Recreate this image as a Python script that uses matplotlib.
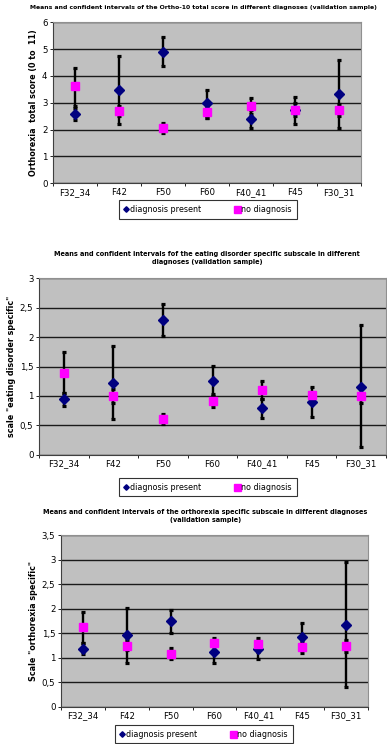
"""Means and confidence intervals, three panels (Excel-style)"""

import numpy as np
import matplotlib
matplotlib.use("Agg")
import matplotlib.pyplot as plt
from matplotlib.ticker import FuncFormatter

categories = ["F32_34", "F42", "F50", "F60", "F40_41", "F45", "F30_31"]

# Panel 1: Ortho-10 total score
total_present = [2.58, 3.46, 4.91, 2.98, 2.40, 2.72, 3.33]
total_present_lo = [2.35, 2.20, 4.38, 2.42, 2.05, 2.20, 2.05]
total_present_hi = [2.82, 4.75, 5.45, 3.48, 2.75, 3.22, 4.61]
total_none = [3.61, 2.71, 2.05, 2.66, 2.89, 2.74, 2.73]
total_none_lo = [2.90, 2.50, 1.87, 2.42, 2.60, 2.50, 2.50]
total_none_hi = [4.31, 2.90, 2.25, 2.90, 3.17, 3.00, 2.95]

# Panel 2: eating disorder specific subscale
eat_present = [0.94, 1.22, 2.29, 1.26, 0.79, 0.89, 1.16]
eat_present_lo = [0.83, 0.60, 2.02, 1.00, 0.62, 0.65, 0.13]
eat_present_hi = [1.05, 1.85, 2.57, 1.51, 0.95, 1.05, 2.20]
eat_none = [1.39, 1.00, 0.60, 0.92, 1.10, 1.02, 1.00]
eat_none_lo = [1.05, 0.88, 0.52, 0.81, 0.95, 0.90, 0.88]
eat_none_hi = [1.75, 1.12, 0.70, 1.04, 1.25, 1.15, 1.12]

# Panel 3: orthorexia specific subscale
orto_present = [1.18, 1.47, 1.74, 1.12, 1.17, 1.42, 1.67]
orto_present_lo = [1.07, 1.15, 1.50, 0.90, 0.98, 1.25, 0.40]
orto_present_hi = [1.30, 2.02, 1.97, 1.25, 1.30, 1.70, 2.94]
orto_none = [1.63, 1.24, 1.08, 1.29, 1.27, 1.21, 1.24]
orto_none_lo = [1.30, 0.90, 0.97, 1.15, 1.12, 1.10, 1.12]
orto_none_hi = [1.94, 1.35, 1.20, 1.40, 1.40, 1.32, 1.35]

FS = 5.3
NAVY = "#000080"
PINK = "#FF00FF"


def comma(v, pos):
    s = "{:g}".format(v)
    return s.replace(".", ",")


def draw_panel(ax, present, p_lo, p_hi, none, n_lo, n_hi, ymax, ystep, ylabel):
    x = np.arange(len(categories))
    present = np.array(present)
    none = np.array(none)
    ax.set_facecolor("#C0C0C0")
    ax.set_axisbelow(True)
    ax.yaxis.grid(True, color="#1a1a1a", linewidth=1.0)

    for vals, lo, hi in [(present, p_lo, p_hi), (none, n_lo, n_hi)]:
        err = [vals - np.array(lo), np.array(hi) - vals]
        ax.errorbar(x, vals, yerr=err, fmt="none", ecolor="black",
                    elinewidth=1.7, capsize=1.2, capthick=2.3, zorder=2)

    ax.plot(x, present, linestyle="none", marker="D", markersize=4.8,
            color=NAVY, label="diagnosis present", zorder=3)
    ax.plot(x, none, linestyle="none", marker="s", markersize=6.3,
            color=PINK, label="no diagnosis", zorder=4)

    ax.set_xlim(-0.5, len(categories) - 0.5)
    ax.set_ylim(0, ymax)
    ax.set_yticks(np.arange(0, ymax + 0.001, ystep))
    ax.yaxis.set_major_formatter(FuncFormatter(comma))
    ax.set_xticks(x)
    ax.set_xticklabels(categories)
    ax.set_xticks(np.arange(-0.5, len(categories)), minor=True)
    ax.tick_params(axis="x", which="major", length=0, labelsize=FS + 0.9, pad=3.5)
    ax.tick_params(axis="x", which="minor", length=2.5, width=0.6)
    ax.tick_params(axis="y", length=2.5, width=0.6, labelsize=FS + 0.9, pad=1.5)
    for side in ["top", "right"]:
        ax.spines[side].set_color("#909090")
    for side in ["left", "bottom"]:
        ax.spines[side].set_color("#404040")
    ax.set_ylabel(ylabel, fontsize=FS + 0.5, fontweight="bold", labelpad=3)


fig = plt.figure(figsize=(3.87, 7.44), dpi=100)

ax1 = fig.add_axes([0.137, 0.7536, 0.796, 0.2164])
draw_panel(ax1, total_present, total_present_lo, total_present_hi,
           total_none, total_none_lo, total_none_hi, 6, 1,
           "Orthorexia  total score (0 to  11)")
fig.text(0.525, 0.993, "Means and confident intervals of the Ortho-10 total score in different diagnoses (validation sample)",
         ha="center", va="top", fontsize=4.4, fontweight="bold")

ax2 = fig.add_axes([0.1008, 0.3888, 0.8966, 0.2371])
draw_panel(ax2, eat_present, eat_present_lo, eat_present_hi,
           eat_none, eat_none_lo, eat_none_hi, 3, 0.5,
           'scale "eating disorder specific"')
fig.text(0.535, 0.662, "Means and confident intervals fof the eating disorder specific subscale in different\ndiagnoses (validation sample)",
         ha="center", va="top", fontsize=FS - 0.6, fontweight="bold", linespacing=1.3)

ax3 = fig.add_axes([0.1576, 0.0501, 0.7933, 0.2308])
draw_panel(ax3, orto_present, orto_present_lo, orto_present_hi,
           orto_none, orto_none_lo, orto_none_hi, 3.5, 0.5,
           'Scale "orthorexia specific"')
fig.text(0.53, 0.316, "Means and confident intervals of the orthorexia specific subscale in different diagnoses\n(validation sample)",
         ha="center", va="top", fontsize=FS - 0.6, fontweight="bold", linespacing=1.5)

for ax, cx, cy in [(ax1, 0.537, 0.7184), (ax2, 0.537, 0.3454), (ax3, 0.526, 0.0134)]:
    h, l = ax.get_legend_handles_labels()
    h[0].set_markersize(3.5)
    leg = fig.legend(h, l, loc="center", bbox_to_anchor=(cx, cy), ncol=2,
                     fontsize=FS + 0.5, frameon=True, fancybox=False,
                     edgecolor="black", handlelength=0.6, handletextpad=0.2,
                     columnspacing=4.2, borderpad=0.6, markerscale=0.8)
    leg.get_frame().set_linewidth(0.8)

# legend markers are shared with the lines, restore plot sizes
for ax in [ax1, ax2, ax3]:
    ax.lines[-2].set_markersize(4.8)

fig.savefig("out.png", dpi=100, facecolor="white")
